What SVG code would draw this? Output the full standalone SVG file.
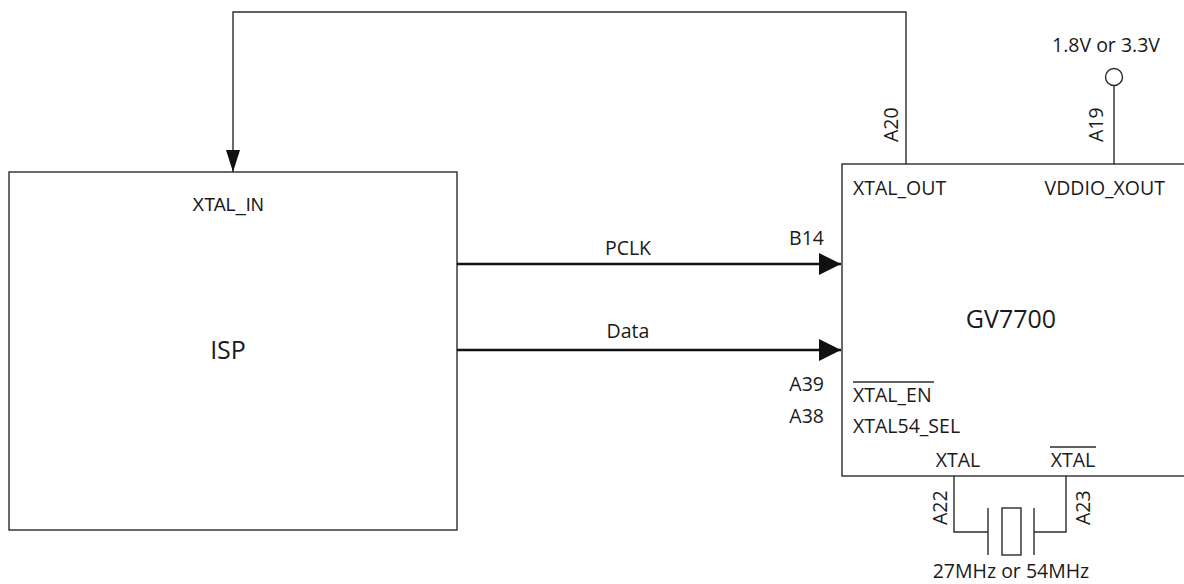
<svg xmlns="http://www.w3.org/2000/svg" width="1184" height="584" viewBox="0 0 1184 584">
<style>
.box{fill:#fff;stroke:#2b2b2b;stroke-width:1.4}
.w{fill:none;stroke:#2b2b2b;stroke-width:1.4}
.bus{fill:none;stroke:#111;stroke-width:2.6}
.t{font-family:"Open Sans","Noto Sans",sans-serif;font-size:19.5px;fill:#1a1a1a}
.big{font-family:"Open Sans","Noto Sans",sans-serif;font-size:25px;fill:#1a1a1a}
.a{font-family:"Liberation Sans",Arial,sans-serif;font-size:18px;fill:#1a1a1a}
</style>
<defs>
<marker id="thick" markerUnits="userSpaceOnUse" markerWidth="22" markerHeight="22" refX="22" refY="11" orient="auto"><path d="M0,0 L22,11 L0,22 z" fill="#111"/></marker>
<marker id="thin" markerUnits="userSpaceOnUse" markerWidth="22" markerHeight="14" refX="22" refY="7" orient="auto"><path d="M0,0 L22,7 L0,14 z" fill="#111"/></marker>
</defs>
<rect width="1184" height="584" fill="#fff"/>
<g id="isp">
<rect class="box" x="9" y="172" width="448" height="358"/>
<text class="a" x="228" y="211" text-anchor="middle">XTAL_IN</text>
<text class="big" x="228" y="359" text-anchor="middle">ISP</text>
</g>
<g id="gv7700">
<rect class="box" x="842" y="164" width="360" height="312"/>
<text class="t" x="853" y="195">XTAL_OUT</text>
<text class="t" x="1165" y="195" text-anchor="end">VDDIO_XOUT</text>
<text class="big" x="1011" y="328" text-anchor="middle">GV7700</text>
<text class="t" x="853" y="402">XTAL_EN</text>
<line class="w" x1="853" y1="382" x2="934" y2="382"/>
<text class="t" x="853" y="433">XTAL54_SEL</text>
<text class="t" x="958" y="467" text-anchor="middle">XTAL</text>
<text class="t" x="1073" y="467" text-anchor="middle">XTAL</text>
<line class="w" x1="1050" y1="447" x2="1096" y2="447"/>
<text class="t" x="824" y="245" text-anchor="end">B14</text>
<text class="t" x="824" y="391" text-anchor="end">A39</text>
<text class="t" x="824" y="423" text-anchor="end">A38</text>
</g>
<g id="supply">
<circle class="w" cx="1114" cy="77" r="8.5"/>
<text class="t" x="1106" y="52" text-anchor="middle">1.8V or 3.3V</text>
</g>
<g id="crystal">
<line class="w" x1="988" y1="508" x2="988" y2="555"/>
<rect class="w" x="1002" y="508" width="19" height="47"/>
<line class="w" x1="1034" y1="508" x2="1034" y2="555"/>
<text class="t" x="1011" y="578" text-anchor="middle">27MHz or 54MHz</text>
</g>
<g id="connectors">
<polyline class="w" points="906,164 906,12 233,12 233,172" marker-end="url(#thin)"/>
<line class="bus" x1="457" y1="264" x2="841" y2="264" marker-end="url(#thick)"/>
<line class="bus" x1="457" y1="350" x2="841" y2="350" marker-end="url(#thick)"/>
<line class="w" x1="1114" y1="85.5" x2="1114" y2="164"/>
<polyline class="w" points="954,476 954,532 988,532"/>
<polyline class="w" points="1034,532 1066,532 1066,476"/>
<text class="t" x="628" y="255" text-anchor="middle">PCLK</text>
<text class="t" x="628" y="338" text-anchor="middle">Data</text>
<text class="t" transform="translate(898,142) rotate(-90)">A20</text>
<text class="t" transform="translate(1103,142) rotate(-90)">A19</text>
<text class="t" transform="translate(947,525) rotate(-90)">A22</text>
<text class="t" transform="translate(1090,525) rotate(-90)">A23</text>
</g>
</svg>
